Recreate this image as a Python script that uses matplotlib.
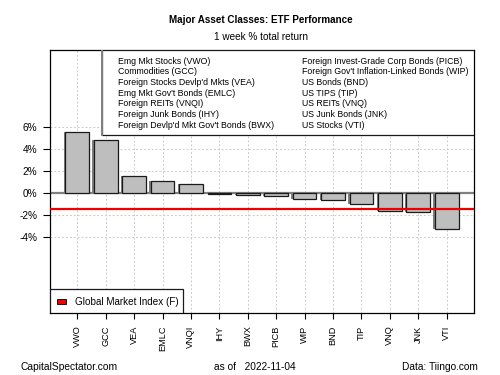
import matplotlib
matplotlib.use("Agg")
import matplotlib.pyplot as plt
from matplotlib.patches import Rectangle

plt.rcParams['font.family'] = ['Liberation Sans', 'DejaVu Sans']

tickers = ["VWO", "GCC", "VEA", "EMLC", "VNQI", "IHY", "BWX", "PICB", "WIP",
           "BND", "TIP", "VNQ", "JNK", "VTI"]
returns = [5.52, 4.76, 1.49, 1.06, 0.76, -0.15, -0.24, -0.30, -0.60, -0.69,
           -1.06, -1.66, -1.79, -3.27]
gmi_return = -1.48
names_left = ["Emg Mkt Stocks (VWO)", "Commodities (GCC)",
              "Foreign Stocks Devlp'd Mkts (VEA)", "Emg Mkt Gov't Bonds (EMLC)",
              "Foreign REITs (VNQI)", "Foreign Junk Bonds (IHY)",
              "Foreign Devlp'd Mkt Gov't Bonds (BWX)"]
names_right = ["Foreign Invest-Grade Corp Bonds (PICB)",
               "Foreign Gov't Inflation-Linked Bonds (WIP)", "US Bonds (BND)",
               "US TIPS (TIP)", "US REITs (VNQ)", "US Junk Bonds (JNK)",
               "US Stocks (VTI)"]
yticks = [-4, -2, 0, 2, 4, 6]
ytick_labels = ["-4%", "-2%", "0%", "2%", "4%", "6%"]
title = "Major Asset Classes: ETF Performance"
subtitle = "1 week % total return"
date = "2022-11-04"

fig = plt.figure(figsize=(5, 3.75), dpi=100)
ax = fig.add_axes([0.1, 0.1653, 0.848, 0.7014])

x = [i * 1.2 for i in range(len(tickers))]
ax.set_xlim(-1.15, 16.75)
ax.set_ylim(-10.95, 13.0)

# grid
for xi in x:
    ax.axvline(xi, color='#cccccc', linestyle=(0, (2, 2)), linewidth=0.7, zorder=0)
for yv in yticks:
    ax.axhline(yv, color='#cccccc', linestyle=(0, (2, 2)), linewidth=0.7, zorder=0)

# shadow bars
ax.bar([xi - 0.06 for xi in x], returns, width=1.0, color='#7f7f7f',
       edgecolor='none', zorder=2)
ax.bar(x, returns, width=1.0, color='#bebebe', edgecolor='#1a1a1a',
       linewidth=0.9, zorder=3)

ax.axhline(0, color='#808080', linewidth=1.6, zorder=2.5)
ax.axhline(gmi_return, color='#ee0000', linewidth=1.6, zorder=4)

ax.set_yticks(yticks)
ax.set_yticklabels(ytick_labels, fontsize=7.2)
ax.set_xticks(x)
ax.set_xticklabels(tickers, rotation=90, fontsize=6.6)
ax.tick_params(axis='y', length=5, width=0.8, pad=4)
ax.tick_params(axis='x', length=4, width=0.8, pad=5)
for s in ax.spines.values():
    s.set_linewidth(0.9)

# top legend box
ax.add_patch(Rectangle((0.1226, 0.677), 0.8774, 0.323, transform=ax.transAxes,
                       facecolor='white', edgecolor='#1a1a1a', linewidth=0.9,
                       zorder=5))
ax.plot([0.1226, 0.1226], [0.677, 1.0], transform=ax.transAxes,
        color='#808080', linewidth=1.4, zorder=6)
for i, (l, r) in enumerate(zip(names_left, names_right)):
    yy = 0.958 - i * 0.0407
    ax.text(0.16, yy, l, transform=ax.transAxes, fontsize=6.3, va='center',
            ha='left', zorder=7)
    ax.text(0.594, yy, r, transform=ax.transAxes, fontsize=6.3, va='center',
            ha='left', zorder=7)

# bottom legend box
ax.add_patch(Rectangle((0, 0), 0.313, 0.090, transform=ax.transAxes,
                       facecolor='white', edgecolor='#1a1a1a', linewidth=0.9,
                       zorder=5))
ax.add_patch(Rectangle((0.017, 0.033), 0.02, 0.019, transform=ax.transAxes,
                       facecolor='#ee0000', edgecolor='black', linewidth=0.6,
                       zorder=6))
ax.text(0.058, 0.040, "Global Market Index (F)", transform=ax.transAxes,
        fontsize=7.1, va='center', ha='left', zorder=7)

fig.text(0.522, 0.947, title, fontsize=7.1, fontweight='bold', ha='center',
         va='center')
fig.text(0.522, 0.902, subtitle, fontsize=7.2, ha='center', va='center')
fig.text(0.041, 0.02, "CapitalSpectator.com", fontsize=7.4, ha='left', va='center')
fig.text(0.428, 0.02, "as of   " + date, fontsize=7.3, ha='left', va='center')
fig.text(0.955, 0.02, "Data: Tiingo.com", fontsize=7.3, ha='right', va='center')

fig.savefig("out.png", dpi=100)
